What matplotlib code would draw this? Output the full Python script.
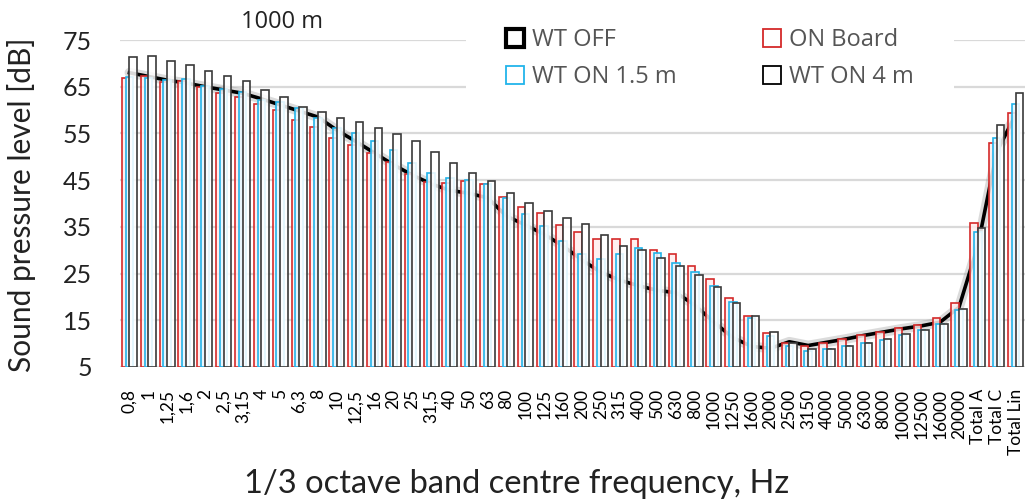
import matplotlib
matplotlib.use("Agg")
import matplotlib.pyplot as plt
from matplotlib.patches import Patch
import numpy as np

categories = ["0,8", "1", "1,25", "1,6", "2", "2,5", "3,15", "4", "5", "6,3", "8", "10",
              "12,5", "16", "20", "25", "31,5", "40", "50", "63", "80", "100", "125", "160",
              "200", "250", "315", "400", "500", "630", "800", "1000", "1250", "1600", "2000",
              "2500", "3150", "4000", "5000", "6300", "8000", "10000", "12500", "16000", "20000",
              "Total A", "Total C", "Total Lin"]

wt_off = [68.0, 67.2, 66.4, 65.8, 65.0, 64.3, 63.6, 62.4, 61.1, 59.8, 58.5, 55.7,
          53.3, 50.8, 48.3, 46.1, 44.2, 42.8, 42.2, 41.2, 37.3, 35.4, 33.4, 30.9,
          27.9, 25.3, 23.6, 22.4, 21.4, 20.9, 18.2, 14.6, 11.3, 9.4, 9.0,
          10.4, 9.6, 10.3, 11.0, 11.8, 12.5, 13.2, 13.8, 14.6, 17.8,
          31.0, 51.0, 59.0]

on_board = [66.9, 67.3, 66.0, 66.2, 65.0, 63.6, 62.9, 61.3, 60.0, 57.8, 56.3, 54.1,
            52.5, 50.9, 48.9, 46.4, 44.5, 44.3, 44.9, 44.2, 41.4, 39.3, 38.0, 35.5,
            33.9, 32.3, 32.3, 32.3, 30.0, 29.1, 26.6, 23.8, 19.8, 15.9, 12.2,
            10.1, 9.5, 10.2, 11.1, 11.8, 12.4, 13.4, 13.9, 15.4, 18.7,
            35.9, 52.9, 59.3]

wt_on_15 = [67.1, 66.8, 66.5, 66.6, 65.1, 64.5, 63.8, 62.2, 61.8, 60.4, 58.4, 56.2,
            55.0, 53.4, 51.5, 48.7, 46.6, 45.5, 45.0, 44.1, 41.1, 37.7, 35.1, 31.9,
            29.2, 28.2, 29.2, 30.4, 29.5, 27.3, 25.4, 22.3, 18.9, 15.4, 11.6,
            9.6, 8.4, 8.8, 9.5, 10.2, 10.7, 11.8, 12.9, 14.1, 17.1,
            33.9, 54.1, 61.2]

wt_on_4 = [71.3, 71.6, 70.4, 69.7, 68.4, 67.2, 66.2, 64.3, 62.7, 60.6, 59.6, 58.4,
           57.4, 56.2, 54.9, 53.4, 51.1, 48.6, 46.6, 44.8, 42.3, 40.1, 38.3, 36.9,
           35.7, 33.3, 31.0, 30.1, 28.4, 26.6, 24.8, 22.1, 18.7, 15.9, 12.5,
           10.2, 8.9, 8.9, 9.6, 10.2, 10.9, 12.0, 13.0, 14.1, 17.5,
           34.8, 56.8, 63.7]

yticks = [5, 15, 25, 35, 45, 55, 65, 75]

RED = "#d42a2a"
CYAN = "#22b4ea"
DARK = "#3a3a3a"
GRID = "#d9d9d9"

fig = plt.figure(figsize=(10.28, 5.0), dpi=100)
ax = fig.add_axes([120/1028, 1-367/500, 905/1028, 327/500])

x = np.arange(len(categories))
base = 5
w = 0.40
d = 0.20

for yv in yticks:
    ax.axhline(yv, color=GRID, lw=1.6, zorder=0)

# WT OFF line (behind the bars)
ax.plot(x, wt_off, color="#9a9a9a", lw=7, alpha=0.35, zorder=1, solid_capstyle="round")
ax.plot(x, wt_off, color="black", lw=2.6, zorder=2, solid_joinstyle="round")

ax.bar(x - d, np.array(on_board) - base, bottom=base, width=w,
       facecolor=(1.0, 0.93, 0.93, 0.85), edgecolor=RED, lw=1.2, zorder=3)
ax.bar(x, np.array(wt_on_15) - base, bottom=base, width=w,
       facecolor=(0.90, 0.97, 1.0, 0.85), edgecolor=CYAN, lw=1.2, zorder=4)
ax.bar(x + d, np.array(wt_on_4) - base, bottom=base, width=w,
       facecolor=(1.0, 1.0, 1.0, 0.85), edgecolor=DARK, lw=1.2, zorder=5)

ax.set_xlim(-0.5, len(categories) - 0.5)
ax.set_ylim(5, 75)
ax.set_yticks(yticks)
ax.set_xticks(x)
ax.set_xticklabels(categories, rotation=90, fontfamily="Lato", fontsize=12.5)
for lab in ax.get_yticklabels():
    lab.set_fontfamily("Lato")
    lab.set_fontsize(18)
ax.tick_params(axis="x", length=0, pad=16, colors="black")
ax.tick_params(axis="y", length=0, pad=20, colors="#222222")
for s in ["top", "right", "left", "bottom"]:
    ax.spines[s].set_visible(False)
ax.set_facecolor("none")

fig.text(22/1028, 1-205/500, "Sound pressure level [dB]", rotation=90,
         ha="center", va="center", fontfamily="Lato", fontsize=21.5, color="#222222")
fig.text(517/1028, 1-484/500, "1/3 octave band centre frequency, Hz",
         ha="center", va="center", fontfamily="Lato", fontsize=23.5, color="#222222")
fig.text(282/1028, 1-22/500, "1000 m", ha="center", va="center",
         fontfamily="Open Sans", fontsize=17, color="#222222")

handles = [
    Patch(facecolor="white", edgecolor="black", lw=3.0, label="WT OFF"),
    Patch(facecolor="white", edgecolor=CYAN, lw=1.3, label="WT ON 1.5 m"),
    Patch(facecolor="white", edgecolor=RED, lw=1.3, label="ON Board"),
    Patch(facecolor="white", edgecolor="black", lw=1.3, label="WT ON 4 m"),
]
leg = fig.legend(handles=handles, ncol=2, loc="upper left",
                 bbox_to_anchor=(466/1028, 1+12/500), frameon=True,
                 prop={"family": "Open Sans", "size": 17},
                 handlelength=0.75, handleheight=0.75, handletextpad=0.35,
                 columnspacing=3.67, labelspacing=0.56, borderpad=1.7,
                 borderaxespad=0)
leg.get_frame().set_facecolor("white")
leg.get_frame().set_edgecolor("none")
leg.get_frame().set_alpha(1)
for t in leg.get_texts():
    t.set_color("#555555")

fig.savefig("out.png", dpi=100, facecolor="white")
